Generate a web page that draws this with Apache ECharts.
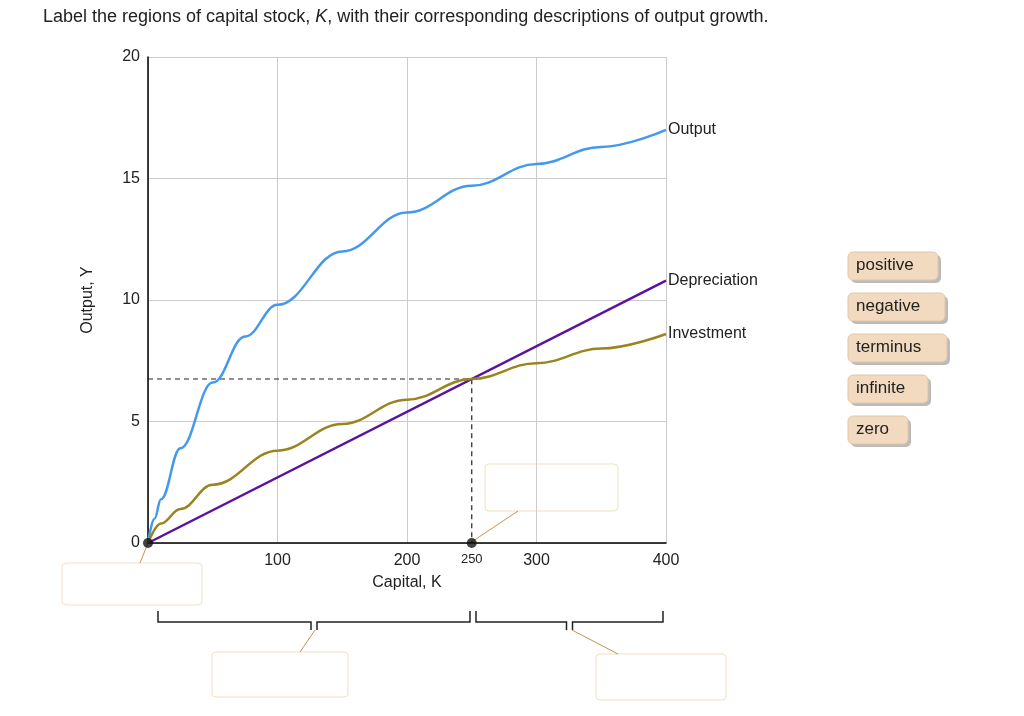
<!DOCTYPE html><html><head><meta charset="utf-8"><script src="https://cdn.jsdelivr.net/npm/echarts@6/dist/echarts.min.js"></script>
<style>body{margin:0}#c{width:1024px;height:716px}</style></head><body><div id="c"></div><script>
const outputK=[0,5,10,25,50,75,100,150,200,250,300,350,400];
const outputY=[0,1.0,1.8,3.9,6.6,8.5,9.8,12.0,13.6,14.7,15.6,16.3,17.0];
const invK=[0,10,25,50,100,150,200,250,300,350,400];
const invY=[0,0.8,1.4,2.4,3.8,4.9,5.9,6.75,7.4,8.0,8.6];
const depK=[0,400];
const depY=[0,10.8];
const steadyK=250, steadyY=6.75;
const xTicks=[100,200,250,300,400];
const tags=['positive','negative','terminus','infinite','zero'];
const zip=(a,b)=>a.map((v,i)=>[v,b[i]]);
const chart=echarts.init(document.getElementById('c'));
const F='Arial, Liberation Sans, sans-serif';
const g=[];
g.push({type:'text',left:43,top:8,style:{text:'Label the regions of capital stock, {i|K}, with their corresponding descriptions of output growth.',font:'18px '+F,fill:'#222',rich:{i:{fontStyle:'italic',fontSize:18,fontFamily:F}}}});
[[62,563,140,42],[485,464,133,47],[212,652,136,45],[596,654,130,46]].forEach(b=>g.push({type:'rect',shape:{x:b[0],y:b[1],width:b[2],height:b[3],r:4},style:{fill:'#fff',stroke:'#f0dfc6',lineWidth:1}}));
const lc='#c89050';
g.push({type:'line',shape:{x1:148,y1:543,x2:140,y2:563},style:{stroke:lc}});
g.push({type:'line',shape:{x1:470,y1:543,x2:518,y2:511},style:{stroke:lc}});
g.push({type:'line',shape:{x1:315,y1:630,x2:300,y2:652},style:{stroke:lc}});
g.push({type:'line',shape:{x1:572,y1:630,x2:618,y2:654},style:{stroke:lc}});
[[158,470],[476,663]].forEach(([a,b])=>{const m=(a+b)/2;g.push({type:'polyline',shape:{points:[[a,611],[a,622],[m-3,622],[m-3,630]]},style:{stroke:'#222',lineWidth:1.5,fill:null}});g.push({type:'polyline',shape:{points:[[m+3,630],[m+3,622],[b,622],[b,611]]},style:{stroke:'#222',lineWidth:1.5,fill:null}});});
const tw=[90,97,99,80,60];
tags.forEach((t,i)=>{const y=252+i*41;g.push({type:'rect',shape:{x:851,y:y+3,width:tw[i],height:28,r:5},style:{fill:'#bbb'}});g.push({type:'rect',shape:{x:848,y:y,width:tw[i],height:28,r:5},style:{fill:'#f2dac0',stroke:'#e3c7a6'}});g.push({type:'text',x:856,y:y+5,style:{text:t,font:'17px '+F,fill:'#222'}});});
const lbl=(n)=>({show:true,formatter:n,color:'#222',fontSize:16,fontFamily:F,distance:2});
chart.setOption({animation:false,
grid:{left:148,right:358,top:57,bottom:173},
xAxis:[{type:'value',min:0,max:400,interval:50,name:'Capital, K',nameLocation:'middle',nameGap:32,nameTextStyle:{color:'#222',fontSize:16,fontFamily:F},
axisLine:{lineStyle:{color:'#000',width:1.5}},axisTick:{show:false},
axisLabel:{margin:10,fontSize:16,fontFamily:F,color:'#222',formatter:v=>xTicks.includes(v)?(v===250?'{s|250}':String(v)):'',rich:{s:{fontSize:13,fontFamily:F,color:'#222'}}},
splitLine:{show:false}},
{type:'value',min:0,max:400,interval:100,position:'bottom',axisLine:{show:false},axisTick:{show:false},axisLabel:{show:false},splitLine:{show:true,lineStyle:{color:'#ccc'}}}],
yAxis:{type:'value',min:0,max:20,interval:5,name:'Output, Y',nameLocation:'middle',nameGap:52,nameTextStyle:{color:'#222',fontSize:16,fontFamily:F},
axisLine:{show:true,lineStyle:{color:'#000',width:1.5}},axisTick:{show:false},axisLabel:{fontSize:16,fontFamily:F,color:'#222',margin:8},splitLine:{lineStyle:{color:'#ccc'}}},
series:[
{type:'line',data:zip(outputK,outputY),smooth:0.4,smoothMonotone:'x',symbol:'none',lineStyle:{color:'#4499ee',width:2.5},endLabel:lbl('Output')},
{type:'line',data:zip(depK,depY),symbol:'none',lineStyle:{color:'#5a12a0',width:2.5},endLabel:lbl('Depreciation')},
{type:'line',data:zip(invK,invY),smooth:0.4,smoothMonotone:'x',symbol:'none',lineStyle:{color:'#9a8420',width:2.5},endLabel:lbl('Investment')},
{type:'line',data:[[0,steadyY],[steadyK,steadyY],[steadyK,0]],symbol:'none',lineStyle:{color:'#222',width:1.2,type:[5,4]},z:1},
{type:'scatter',data:[[0,0],[steadyK,0]],symbolSize:10,itemStyle:{color:'#111'},z:5}
],
graphic:g});
</script></body></html>
